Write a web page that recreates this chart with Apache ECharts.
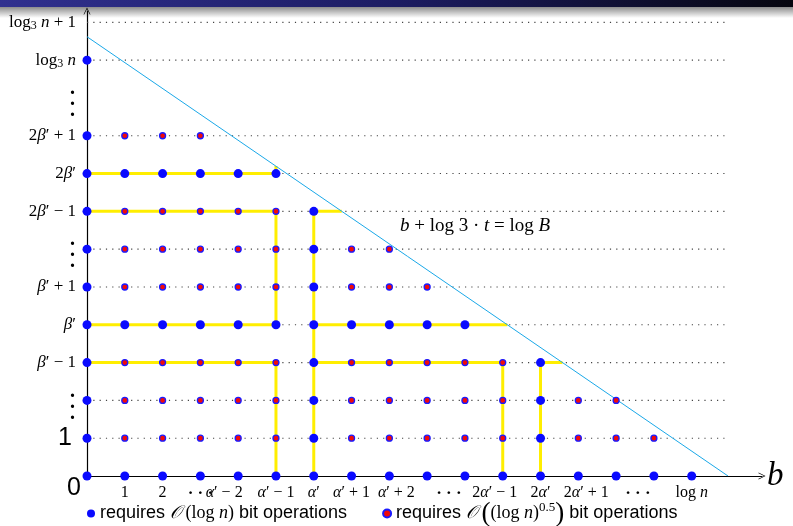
<!DOCTYPE html>
<html>
<head>
<meta charset="utf-8">
<script src="https://cdn.jsdelivr.net/npm/echarts@6/dist/echarts.min.js"></script>
<style>
  html, body { margin: 0; padding: 0; background: #fff; }
  #chart { width: 793px; height: 526px; }
</style>
</head>
<body>
<div id="chart"></div>
<script>
// ---- data -------------------------------------------------------------
// tick labels along b (column index -> text)
const colLabels = ['', '1', '2', '⋯', 'α′ − 2', 'α′ − 1', 'α′', 'α′ + 1', 'α′ + 2',
                   '', '⋯', '2α′ − 1', '2α′', '2α′ + 1', '', '⋯', 'log n'];
// tick labels along t (row index -> text)
const rowLabels = ['0', '1', '⋮', 'β′ − 1', 'β′', 'β′ + 1', '⋮', '2β′ − 1', '2β′', '2β′ + 1',
                   '⋮', 'log₃ n', 'log₃ n + 1'];

// grid points needing O(log n) bit operations: [row, columns]
const bluePoints = [
  [0, [0, 1, 2, 3, 4, 5, 6, 7, 8, 9, 10, 11, 12, 13, 14, 15, 16]],
  [1, [0, 6, 12]],
  [2, [0, 6, 12]],
  [3, [0, 6, 12]],
  [4, [0, 1, 2, 3, 4, 5, 6, 7, 8, 9, 10]],
  [5, [0, 6]],
  [6, [0, 6]],
  [7, [0, 6]],
  [8, [0, 1, 2, 3, 4, 5]],
  [9, [0]],
  [11, [0]]
];
// grid points needing O((log n)^0.5) bit operations: [row, columns]
const redPoints = [
  [1, [1, 2, 3, 4, 5, 7, 8, 9, 10, 11, 13, 14, 15]],
  [2, [1, 2, 3, 4, 5, 7, 8, 9, 10, 11, 13, 14]],
  [3, [1, 2, 3, 4, 5, 7, 8, 9, 10, 11]],
  [5, [1, 2, 3, 4, 5, 7, 8, 9]],
  [6, [1, 2, 3, 4, 5, 7, 8]],
  [7, [1, 2, 3, 4, 5]],
  [9, [1, 2, 3]]
];
// highlighted evaluation paths (polylines in grid units)
const yellowPaths = [
  [[0, 8], [5, 8], [5, 8.2]],
  [[0, 7], [5, 7], [5, 4], [0, 4]],
  [[6.74, 7], [6, 7], [6, 0]],
  [[6, 4], [11.12, 4]],
  [[0, 3], [5, 3], [5, 0]],
  [[6, 3], [11, 3], [11, 0]],
  [[12.58, 3], [12, 3], [12, 0]]
];
// boundary b + log3·t = log B
const boundary = [[0, 11.62], [16.96, 0]];
// dotted guide rows and where they stop
const guideRows = [1, 2, 3, 4, 5, 6, 7, 8, 9, 11, 12];
const guideEnd = 17;

const legendNames = ['requires O(log n) bit operations', 'requires O((log n)^0.5) bit operations'];

// ---- text helpers -------------------------------------------------------
const SERIF = 'Liberation Serif';
const SANS = 'Liberation Sans';

function toRich(s) {
  let out = '', cur = null, buf = '';
  const flush = () => { if (buf) out += '{' + cur + '|' + buf + '}'; buf = ''; };
  for (const ch of s) {
    let st = 'n', c = ch;
    if ('αβnbtB'.includes(ch)) st = 'i';
    else if (ch === '₃') { st = 'sub'; c = '3'; }
    else if (ch === '⋯') { st = 'dots'; c = '· · ·'; }
    if (st !== cur) { flush(); cur = st; }
    buf += c;
  }
  flush();
  return out;
}

function mathRich(size) {
  return {
    n: { fontFamily: SERIF, fontSize: size, color: '#000' },
    i: { fontFamily: SERIF, fontSize: size, fontStyle: 'italic', color: '#000' },
    sub: { fontFamily: SERIF, fontSize: Math.round(size * 0.7), color: '#000', padding: [8, 0, 0, 0] },
    dots: { fontFamily: SERIF, fontSize: 17, fontWeight: 'bold', color: '#000' }
  };
}

// horizontal nudges (px) for crowded column labels
const colNudge = { 4: -14, 8: 7, 10: -16, 11: -8, 13: 8, 15: -16 };

const xRich = mathRich(16);
Object.values(colNudge).forEach(v => { xRich['sp' + Math.abs(v) * 2] = { width: Math.abs(v) * 2 }; });

const yRich = mathRich(17);
Object.assign(yRich, {
  pad: { width: 5 },
  pad1: { width: 9 },
  big: { fontFamily: SANS, fontSize: 25, color: '#000' },
  zero: { fontFamily: SANS, fontSize: 25, color: '#000', padding: [24, 0, 0, 0] },
  gap: { fontSize: 4, lineHeight: 4 },
  vd: { fontFamily: SERIF, fontSize: 20, fontWeight: 'bold', lineHeight: 11, color: '#000', padding: [0, 6, 0, 0] }
});

function xFormatter(v) {
  if (!Number.isInteger(v)) return '';
  const s = colLabels[v];
  if (!s) return '';
  const body = toRich(s);
  const d = colNudge[v];
  if (!d) return body;
  const sp = '{sp' + Math.abs(d) * 2 + '|\u200b}';
  return d < 0 ? body + sp : sp + body;
}

function yFormatter(v) {
  if (!Number.isInteger(v)) return '';
  const s = rowLabels[v];
  if (!s) return '';
  if (s === '0') return '{zero|0}';
  if (s === '1') return '{big|1}{pad1|\u200b}';
  if (s === '⋮') return '{gap|\u200b}\n{vd|.}\n{vd|.}\n{vd|.}';
  return toRich(s) + '{pad|\u200b}';
}

const legendRich = {
  t: { fontFamily: SANS, fontSize: 18, color: '#000' },
  m: { fontFamily: SERIF, fontSize: 18, color: '#000' },
  mi: { fontFamily: SERIF, fontSize: 18, fontStyle: 'italic', color: '#000' },
  cal: { fontFamily: SERIF, fontSize: 18, fontStyle: 'italic', color: '#000' },
  bp: { fontFamily: SERIF, fontSize: 27, color: '#000' },
  sup: { fontFamily: SERIF, fontSize: 13, color: '#000', padding: [0, 0, 11, 0] }
};
const legendText = [
  '{t|requires }{cal|𝒪}{m| (log }{mi|n}{m|)}{t| bit operations}',
  '{t|requires }{cal|𝒪}{m| }{bp|(}{m|(log }{mi|n}{m|)}{sup|0.5}{bp|)}{t| bit operations}'
];

function expand(rows) {
  const out = [];
  rows.forEach(([r, cols]) => cols.forEach(c => out.push([c, r])));
  return out;
}

// ---- chart -------------------------------------------------------------
const chart = echarts.init(document.getElementById('chart'), null, { renderer: 'canvas' });
const arrow = 'path://M0,10 L5,0 L10,10 L9,10 L5,2 L1,10 Z';

chart.setOption({
  animation: false,
  backgroundColor: '#fff',
  grid: { left: 87, right: 31, top: 11, bottom: 50, containLabel: false },
  xAxis: {
    type: 'value', min: 0, max: 17.86, interval: 1,
    axisLine: { show: true, onZero: false, symbol: ['none', arrow], symbolSize: [7, 7],
                lineStyle: { color: '#000', width: 1.2 } },
    axisTick: { show: false },
    splitLine: { show: false },
    axisLabel: { margin: 9, formatter: xFormatter, rich: xRich, showMaxLabel: false },
    name: 'b', nameLocation: 'end', nameGap: 5,
    nameTextStyle: { fontFamily: SERIF, fontStyle: 'italic', fontSize: 33, color: '#000', verticalAlign: 'middle' }
  },
  yAxis: {
    type: 'value', min: 0, max: 12.3, interval: 1,
    axisLine: { show: true, onZero: false, symbol: ['none', arrow], symbolSize: [7, 7],
                lineStyle: { color: '#000', width: 1.2 } },
    axisTick: { show: false },
    splitLine: { show: false },
    axisLabel: { margin: 6, formatter: yFormatter, rich: yRich, showMaxLabel: false }
  },
  legend: {
    left: 82, top: 495, itemWidth: 8, itemHeight: 8, itemGap: 35, icon: 'circle',
    data: legendNames,
    formatter: name => legendText[legendNames.indexOf(name)],
    textStyle: { rich: legendRich }
  },
  graphic: [
    { type: 'rect', z: -10, shape: { x: 0, y: 0, width: 793, height: 7 },
      style: { fill: new echarts.graphic.LinearGradient(0, 0, 1, 0, [
        { offset: 0, color: '#30308f' }, { offset: 0.5, color: '#1c1c62' }, { offset: 1, color: '#06060f' }]) } },
    { type: 'rect', z: -10, shape: { x: 0, y: 7, width: 793, height: 11 },
      style: { fill: new echarts.graphic.LinearGradient(0, 0, 0, 1, [
        { offset: 0, color: 'rgba(0,0,0,0.45)' }, { offset: 1, color: 'rgba(0,0,0,0)' }]) } },
    { type: 'text', x: 400, y: 226, z: 10,
      style: { text: toRich('b + log 3 · t = log B'), rich: mathRich(19), verticalAlign: 'middle' } }
  ],
  series: [
    {
      type: 'lines', coordinateSystem: 'cartesian2d', polyline: true, z: 1, silent: true,
      lineStyle: { color: '#444', width: 1.1, type: [1.2, 5.1], opacity: 1 },
      data: guideRows.map(r => ({ coords: [[0, r], [guideEnd, r]] }))
    },
    {
      type: 'lines', coordinateSystem: 'cartesian2d', polyline: true, z: 2, silent: true,
      lineStyle: { color: '#ffee00', width: 3, opacity: 1 },
      data: yellowPaths.map(p => ({ coords: p }))
    },
    {
      type: 'line', z: 3, silent: true, showSymbol: false,
      lineStyle: { color: '#1aa8e8', width: 1 },
      data: boundary
    },
    {
      name: legendNames[0], type: 'scatter', z: 5, symbolSize: 9,
      itemStyle: { color: '#0a0aff', opacity: 1 },
      data: expand(bluePoints)
    },
    {
      name: legendNames[1], type: 'scatter', z: 6, symbolSize: 6,
      itemStyle: { color: '#f00a0a', borderColor: '#1a1aff', borderWidth: 1.3, opacity: 1 },
      data: expand(redPoints)
    }
  ]
});
</script>
</body>
</html>
